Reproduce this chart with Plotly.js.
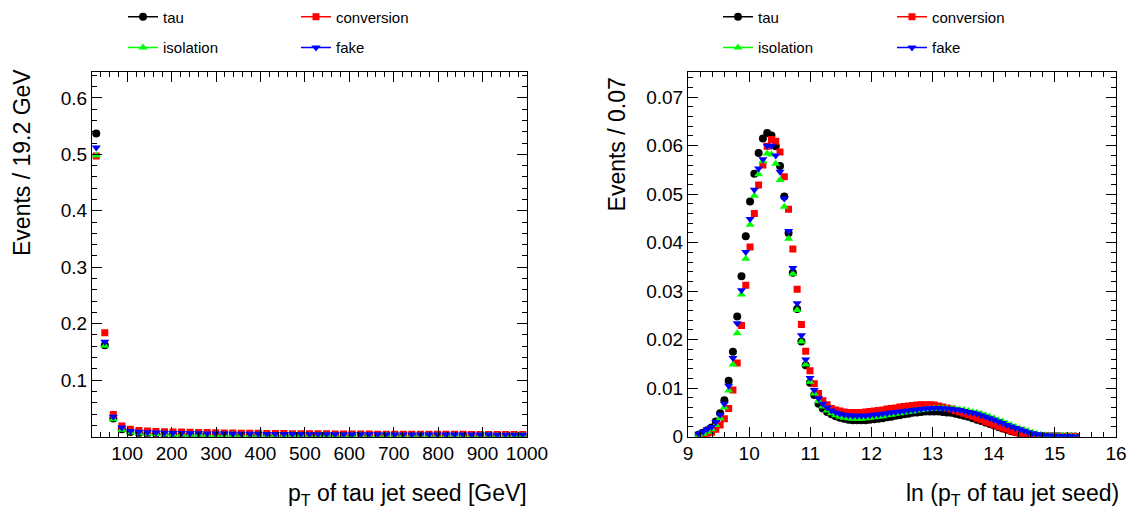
<!DOCTYPE html>
<html>
<head>
<meta charset="utf-8">
<script src="https://cdn.plot.ly/plotly-3.0.1.min.js"></script>
<style>html,body{margin:0;padding:0;background:#fff;}#chart{width:1137px;height:517px;}</style>
</head>
<body>
<div id="chart"></div>
<script>
// ---------- Left panel: pT of tau jet seed (51 bins of 19.2 GeV, 20.8 - 1000 GeV) ----------
const ptLow = 20.8;
const ptBinWidth = 19.2;
const ptTau = [0.537, 0.162, 0.032, 0.013, 0.0080, 0.0062, 0.0053, 0.0047, 0.0043, 0.0040,
  0.0038, 0.0036, 0.0034, 0.0033, 0.0032, 0.0031, 0.0030, 0.0029, 0.0028, 0.0027,
  0.0027, 0.0026, 0.0025, 0.0025, 0.0024, 0.0024, 0.0023, 0.0023, 0.0022, 0.0022,
  0.0022, 0.0021, 0.0021, 0.0021, 0.0020, 0.0020, 0.0020, 0.0019, 0.0019, 0.0019,
  0.0019, 0.0018, 0.0018, 0.0018, 0.0018, 0.0018, 0.0017, 0.0017, 0.0017, 0.0017, 0.0017];
const ptConversion = [0.497, 0.184, 0.039, 0.019, 0.013, 0.011, 0.0098, 0.0092, 0.0088, 0.0084,
  0.0080, 0.0077, 0.0074, 0.0071, 0.0068, 0.0066, 0.0064, 0.0062, 0.0060, 0.0058,
  0.0057, 0.0055, 0.0054, 0.0053, 0.0052, 0.0051, 0.0050, 0.0049, 0.0048, 0.0047,
  0.0046, 0.0046, 0.0045, 0.0044, 0.0044, 0.0043, 0.0043, 0.0042, 0.0042, 0.0041,
  0.0041, 0.0040, 0.0040, 0.0040, 0.0039, 0.0039, 0.0039, 0.0038, 0.0038, 0.0038, 0.0037];
const ptIsolation = [0.498, 0.161, 0.031, 0.012, 0.0078, 0.0060, 0.0051, 0.0046, 0.0042, 0.0039,
  0.0037, 0.0035, 0.0033, 0.0032, 0.0031, 0.0030, 0.0029, 0.0028, 0.0027, 0.0026,
  0.0026, 0.0025, 0.0024, 0.0024, 0.0023, 0.0023, 0.0022, 0.0022, 0.0021, 0.0021,
  0.0021, 0.0020, 0.0020, 0.0020, 0.0019, 0.0019, 0.0019, 0.0018, 0.0018, 0.0018,
  0.0018, 0.0017, 0.0017, 0.0017, 0.0017, 0.0017, 0.0016, 0.0016, 0.0016, 0.0016, 0.0016];
const ptFake = [0.512, 0.168, 0.035, 0.016, 0.0100, 0.0085, 0.0078, 0.0073, 0.0069, 0.0066,
  0.0063, 0.0061, 0.0059, 0.0057, 0.0055, 0.0054, 0.0052, 0.0051, 0.0050, 0.0049,
  0.0048, 0.0047, 0.0046, 0.0045, 0.0045, 0.0044, 0.0043, 0.0043, 0.0042, 0.0042,
  0.0041, 0.0041, 0.0040, 0.0040, 0.0039, 0.0039, 0.0039, 0.0038, 0.0038, 0.0038,
  0.0037, 0.0037, 0.0037, 0.0036, 0.0036, 0.0036, 0.0036, 0.0035, 0.0035, 0.0035, 0.0035];
const ptTickLabels = [100, 200, 300, 400, 500, 600, 700, 800, 900, 1000];
const ptYTicks = [0.1, 0.2, 0.3, 0.4, 0.5, 0.6];

// ---------- Right panel: ln(pT) (bins of 0.07 from 9.0; filled bins start at the 3rd bin) ----------
const lnLow = 9.0;
const lnBinWidth = 0.07;
const lnFirstBin = 2;
const lnTau = [0.0004, 0.0008, 0.0013, 0.0019, 0.0031, 0.0048, 0.0075, 0.0115, 0.0175, 0.0248,
  0.0331, 0.0413, 0.0485, 0.0542, 0.0585, 0.0615, 0.0626, 0.0621, 0.0599, 0.0558,
  0.0495, 0.0420, 0.0338, 0.0263, 0.0196, 0.0147, 0.0111, 0.0086, 0.0068, 0.0058,
  0.0051, 0.0046, 0.0042, 0.0039, 0.0037, 0.0035, 0.0034, 0.0034, 0.0034, 0.0034,
  0.0035, 0.0036, 0.0037, 0.0038, 0.0040, 0.0041, 0.0043, 0.0044, 0.0046, 0.0047,
  0.0049, 0.0050, 0.0051, 0.0052, 0.0052, 0.0052, 0.0052, 0.0051, 0.0050, 0.0049,
  0.0047, 0.0045, 0.0043, 0.0041, 0.0038, 0.0035, 0.0032, 0.0029, 0.0026, 0.0023,
  0.0020, 0.0017, 0.0014, 0.0011, 0.0009, 0.0007, 0.0005, 0.0004, 0.0003, 0.0002,
  0.00015, 0.0001, 0.0001, 0.00008, 0.00006, 0.00005, 0.00004, 0.00003, 0.00002];
const lnConversion = [0.0001, 0.0003, 0.0005, 0.0009, 0.0015, 0.0024, 0.0037, 0.0058, 0.0096, 0.0152,
  0.0229, 0.0312, 0.0391, 0.0460, 0.0519, 0.0560, 0.0599, 0.0613, 0.0609, 0.0587,
  0.0536, 0.0469, 0.0387, 0.0304, 0.0231, 0.0176, 0.0136, 0.0109, 0.0089, 0.0074,
  0.0066, 0.0058, 0.0055, 0.0053, 0.0051, 0.0050, 0.0050, 0.0050, 0.0050, 0.0051,
  0.0052, 0.0053, 0.0054, 0.0055, 0.0057, 0.0058, 0.0059, 0.0061, 0.0062, 0.0063,
  0.0064, 0.0065, 0.0066, 0.0066, 0.0066, 0.0065, 0.0063, 0.0061, 0.0059, 0.0057,
  0.0054, 0.0051, 0.0048, 0.0045, 0.0042, 0.0038, 0.0035, 0.0031, 0.0028, 0.0024,
  0.0021, 0.0018, 0.0015, 0.0012, 0.0009, 0.0007, 0.0005, 0.0004, 0.0003, 0.0002,
  0.00015, 0.0001, 0.0001, 0.00005, 0.00003, 0.00003, 0.00002, 0.00002, 0.00001];
const lnIsolation = [0.0003, 0.0006, 0.0010, 0.0015, 0.0024, 0.0038, 0.0060, 0.0095, 0.0149, 0.0213,
  0.0293, 0.0367, 0.0437, 0.0497, 0.0541, 0.0568, 0.0584, 0.0582, 0.0563, 0.0529,
  0.0474, 0.0408, 0.0336, 0.0261, 0.0196, 0.0149, 0.0113, 0.0089, 0.0073, 0.0062,
  0.0054, 0.0048, 0.0044, 0.0041, 0.0039, 0.0038, 0.0037, 0.0037, 0.0037, 0.0038,
  0.0039, 0.0040, 0.0041, 0.0042, 0.0044, 0.0045, 0.0047, 0.0048, 0.0050, 0.0051,
  0.0052, 0.0054, 0.0055, 0.0056, 0.0057, 0.0058, 0.0058, 0.0058, 0.0058, 0.0058,
  0.0057, 0.0056, 0.0055, 0.0053, 0.0051, 0.0049, 0.0047, 0.0044, 0.0041, 0.0038,
  0.0034, 0.0031, 0.0027, 0.0024, 0.0020, 0.0017, 0.0014, 0.0011, 0.0008, 0.0006,
  0.0004, 0.0003, 0.0002, 0.0002, 0.0001, 0.0001, 0.0001, 0.00005, 0.00003];
const lnFake = [0.0006, 0.0010, 0.0015, 0.0020, 0.0030, 0.0045, 0.0068, 0.0105, 0.0162, 0.0234,
  0.0302, 0.0381, 0.0449, 0.0509, 0.0553, 0.0572, 0.0600, 0.0600, 0.0580, 0.0546,
  0.0491, 0.0424, 0.0348, 0.0275, 0.0209, 0.0159, 0.0121, 0.0096, 0.0079, 0.0068,
  0.0060, 0.0054, 0.0050, 0.0047, 0.0045, 0.0044, 0.0043, 0.0043, 0.0043, 0.0043,
  0.0044, 0.0045, 0.0046, 0.0047, 0.0048, 0.0050, 0.0051, 0.0052, 0.0053, 0.0054,
  0.0055, 0.0056, 0.0057, 0.0058, 0.0058, 0.0059, 0.0059, 0.0058, 0.0058, 0.0057,
  0.0056, 0.0055, 0.0053, 0.0051, 0.0049, 0.0047, 0.0044, 0.0041, 0.0038, 0.0035,
  0.0031, 0.0028, 0.0024, 0.0021, 0.0018, 0.0015, 0.0012, 0.0009, 0.0007, 0.0005,
  0.0004, 0.0003, 0.0002, 0.0002, 0.0001, 0.0001, 0.0001, 0.0001, 0.00005];
const lnTickLabels = [9, 10, 11, 12, 13, 14, 15, 16];
const lnYTicks = [0, 0.01, 0.02, 0.03, 0.04, 0.05, 0.06, 0.07];

const seriesNames = ['tau', 'conversion', 'isolation', 'fake'];
const seriesColors = ['#000000', '#ff0000', '#00ff00', '#0000ff'];
const seriesSymbols = ['circle', 'square', 'triangle-up', 'triangle-down'];
const seriesSizes = [8, 7, 8, 8];

// bin centres
const ptCenters = ptTau.map((_, i) => ptLow + ptBinWidth * (i + 0.5));
const lnCenters = lnTau.map((_, i) => lnLow + lnBinWidth * (lnFirstBin + i + 0.5));

const ptSeries = [ptTau, ptConversion, ptIsolation, ptFake];
const lnSeries = [lnTau, lnConversion, lnIsolation, lnFake];

const FONT = 'Liberation Sans, Arial, Helvetica, sans-serif';
const traces = [];
ptSeries.forEach((ys, s) => {
  traces.push({x: ptCenters, y: ys, xaxis: 'x', yaxis: 'y', type: 'scatter', mode: 'markers',
    name: seriesNames[s], showlegend: false, cliponaxis: true,
    marker: {color: seriesColors[s], symbol: seriesSymbols[s], size: seriesSizes[s]}});
});
lnSeries.forEach((ys, s) => {
  traces.push({x: lnCenters, y: ys, xaxis: 'x2', yaxis: 'y2', type: 'scatter', mode: 'markers',
    name: seriesNames[s], showlegend: false, cliponaxis: true,
    marker: {color: seriesColors[s], symbol: seriesSymbols[s], size: seriesSizes[s]}});
});

// legend entries (one legend box per entry, laid out in a 2x2 grid above each panel)
const W = 1137, H = 517;
const legendTextStart = [[163, 336], [758, 932]];
const legendRows = [13, 44];
const layoutLegends = {};
let legIdx = 1;
[['x', 'y'], ['x2', 'y2']].forEach((ax, p) => {
  seriesNames.forEach((nm, s) => {
    const col = s % 2, row = Math.floor(s / 2);
    const key = legIdx === 1 ? 'legend' : 'legend' + legIdx;
    traces.push({x: [null], y: [null], xaxis: ax[0], yaxis: ax[1], type: 'scatter', mode: 'lines+markers',
      name: nm, legend: key, showlegend: true,
      line: {color: seriesColors[s], width: 1.5},
      marker: {color: seriesColors[s], symbol: seriesSymbols[s], size: seriesSizes[s]}});
    layoutLegends[key] = {
      x: (legendTextStart[p][col] - 40) / W, y: 1 - legendRows[row] / H,
      xanchor: 'left', yanchor: 'middle', bgcolor: 'rgba(0,0,0,0)', borderwidth: 0,
      font: {family: FONT, size: 15, color: '#000'}
    };
    legIdx++;
  });
});

const axisCommon = {
  showline: true, linecolor: '#000', linewidth: 1, mirror: 'ticks',
  ticks: 'inside', ticklen: 10, tickcolor: '#000', tickwidth: 1,
  showgrid: false, zeroline: false, fixedrange: true,
  tickfont: {family: FONT, size: 19, color: '#000'}
};

const yTop = 69, yBot = 436;
const layout = Object.assign({
  width: W, height: H,
  margin: {l: 0, r: 0, t: 0, b: 0},
  paper_bgcolor: '#fff', plot_bgcolor: '#fff',
  xaxis: Object.assign({}, axisCommon, {
    domain: [92 / W, 527 / W], range: [ptLow, ptLow + ptBinWidth * ptTau.length],
    tickmode: 'array', tickvals: ptTickLabels, ticktext: ptTickLabels.map(String),
    minor: {ticks: 'inside', ticklen: 5, dtick: 20, tick0: 0, tickcolor: '#000', showgrid: false}
  }),
  yaxis: Object.assign({}, axisCommon, {
    domain: [1 - yBot / H, 1 - yTop / H], range: [0, 0.645],
    tickmode: 'array', tickvals: ptYTicks, ticktext: ptYTicks.map(v => v.toFixed(1)),
    minor: {ticks: 'inside', ticklen: 5, dtick: 0.02, tick0: 0, tickcolor: '#000', showgrid: false}
  }),
  xaxis2: Object.assign({}, axisCommon, {
    domain: [688 / W, 1116 / W], range: [9, 16], anchor: 'y2',
    tickmode: 'array', tickvals: lnTickLabels, ticktext: lnTickLabels.map(String),
    minor: {ticks: 'inside', ticklen: 5, dtick: 0.2, tick0: 0, tickcolor: '#000', showgrid: false}
  }),
  yaxis2: Object.assign({}, axisCommon, {
    domain: [1 - yBot / H, 1 - yTop / H], range: [0, 0.0751], anchor: 'x2',
    tickmode: 'array', tickvals: lnYTicks, ticktext: lnYTicks.map(v => v === 0 ? '0' : v.toFixed(2)),
    minor: {ticks: 'inside', ticklen: 5, dtick: 0.002, tick0: 0, tickcolor: '#000', showgrid: false}
  }),
  annotations: [
    {text: 'Events / 19.2 GeV', xref: 'paper', yref: 'paper', x: 22 / W, y: 1 - 64 / H,
     xanchor: 'center', yanchor: 'top', textangle: -90, showarrow: false,
     font: {family: FONT, size: 23, color: '#000'}},
    {text: 'Events / 0.07', xref: 'paper', yref: 'paper', x: 617 / W, y: 1 - 72 / H,
     xanchor: 'center', yanchor: 'top', textangle: -90, showarrow: false,
     font: {family: FONT, size: 23, color: '#000'}},
    {text: 'p<sub>T</sub> of tau jet seed [GeV]', xref: 'paper', yref: 'paper', x: 529 / W, y: 1 - 494 / H,
     xanchor: 'right', yanchor: 'middle', showarrow: false,
     font: {family: FONT, size: 23, color: '#000'}},
    {text: 'ln (p<sub>T</sub> of tau jet seed)', xref: 'paper', yref: 'paper', x: 1121 / W, y: 1 - 494 / H,
     xanchor: 'right', yanchor: 'middle', showarrow: false,
     font: {family: FONT, size: 23, color: '#000'}}
  ],
  showlegend: true
}, layoutLegends);

Plotly.newPlot('chart', traces, layout, {staticPlot: true, displayModeBar: false});
</script>
</body>
</html>
